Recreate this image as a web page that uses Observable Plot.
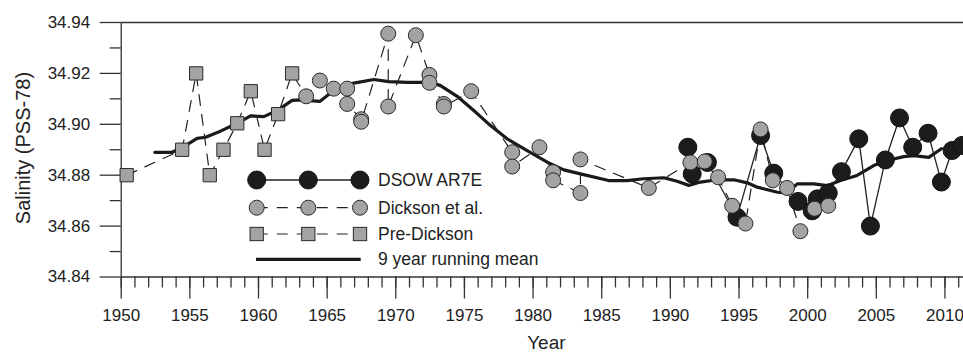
<!DOCTYPE html>
<html><head><meta charset="utf-8">
<script src="https://cdn.jsdelivr.net/npm/d3@7"></script>
<script src="https://cdn.jsdelivr.net/npm/@observablehq/plot@0.6"></script>
<style>
html,body{margin:0;padding:0;background:#fff;overflow:hidden;}
#chart{width:963px;height:353px;}
</style></head><body><div id="chart"></div>
<script>
// ---- data ----
const preYears = [1950.4, 1954.44, 1955.46, 1956.45, 1957.45, 1958.45, 1959.44, 1960.44, 1961.43, 1962.45];
const preSal   = [34.880, 34.890, 34.920, 34.880, 34.890, 34.9004, 34.913, 34.890, 34.904, 34.920];

const dicksonYears = [1963.47, 1964.47, 1965.48, 1966.46, 1966.46, 1967.48, 1967.48, 1969.45, 1969.45, 1971.46,
  1972.45, 1972.45, 1973.5, 1973.5, 1975.49, 1978.48, 1978.48, 1980.46, 1981.46, 1981.46,
  1983.45, 1983.45, 1988.43, 1991.46, 1992.5, 1993.48, 1994.5, 1995.47, 1996.57, 1997.46,
  1998.5, 1999.47, 2000.5, 2001.5];
const dicksonSal = [34.911, 34.9172, 34.914, 34.914, 34.908, 34.902, 34.901, 34.9356, 34.907, 34.935,
  34.9194, 34.9163, 34.908, 34.907, 34.913, 34.889, 34.8834, 34.891, 34.8812, 34.878,
  34.873, 34.8862, 34.875, 34.885, 34.8854, 34.8792, 34.868, 34.861, 34.898, 34.878,
  34.875, 34.858, 34.8668, 34.868];

const ar7eYears = [1991.27, 1991.59, 1992.7, 1994.85, 1996.57, 1997.53, 1999.3, 2000.33, 2000.7, 2001.5,
  2002.46, 2003.72, 2004.57, 2005.66, 2006.69, 2007.65, 2008.77, 2009.74, 2010.52, 2011.25];
const ar7eSal = [34.891, 34.8805, 34.885, 34.8635, 34.8956, 34.8808, 34.8697, 34.866, 34.8707, 34.873,
  34.8814, 34.8943, 34.860, 34.886, 34.9025, 34.891, 34.8965, 34.8773, 34.8897, 34.8917];

const meanYears = [1952.45, 1953.7, 1954.44, 1955.53, 1956.14, 1957.23, 1958.45, 1959.42, 1960.39, 1961.36,
  1962.45, 1963.06, 1964.46, 1965.48, 1966.94, 1968.4, 1969.49, 1970.83, 1972.53, 1973.26,
  1974.47, 1975.68, 1976.9, 1978.11, 1979.57, 1981.03, 1982.24, 1983.45, 1985.5, 1986.85,
  1988.06, 1989.52, 1990.49, 1991.34, 1992.19, 1993.4, 1994.62, 1995.6, 1996.33, 1997.8,
  1998.5, 1999.24, 2000.45, 2001.42, 2002.39, 2003.6, 2004.81, 2005.78, 2007.0, 2007.73,
  2008.82, 2009.74];
const meanSal = [34.889, 34.889, 34.8908, 34.8945, 34.8949, 34.8973, 34.9004, 34.9033, 34.903, 34.9054,
  34.9094, 34.9096, 34.909, 34.9133, 34.9162, 34.9176, 34.9168, 34.9165, 34.9165, 34.9152,
  34.911, 34.9054, 34.8995, 34.8943, 34.8897, 34.8851, 34.8821, 34.8805, 34.8779, 34.8779,
  34.8786, 34.879, 34.8776, 34.876, 34.8773, 34.8782, 34.8782, 34.877, 34.8753, 34.8733,
  34.873, 34.8766, 34.8766, 34.8759, 34.8779, 34.8799, 34.8838, 34.8858, 34.8873, 34.8877,
  34.887, 34.8904];

const xMajorTicks = [1950, 1955, 1960, 1965, 1970, 1975, 1980, 1985, 1990, 1995, 2000, 2005, 2010];
const xMinorTicks = d3.range(1950, 2012);
const yMajorTicks = [34.84, 34.86, 34.88, 34.90, 34.92, 34.94];
const yMinorTicks = [34.85, 34.87, 34.89, 34.91, 34.93];
const legendLabels = ["DSOW AR7E", "Dickson et al.", "Pre-Dickson", "9 year running mean"];
const yTitle = "Salinity (PSS-78)";
const xTitle = "Year";

// ---- tables ----
const zip = (xs, ys) => xs.map((x, i) => ({year: x, sal: ys[i]}));
const pre = zip(preYears, preSal);
const dickson = zip(dicksonYears, dicksonSal);
const ar7e = zip(ar7eYears, ar7eSal);
const mean = zip(meanYears, meanSal);

const GRAY = "#a3a3a3", BLACK = "#1c1c1c", INK = "#222";
const FONT = "'Liberation Sans', Arial, Helvetica, sans-serif";

const chart = Plot.plot({
  width: 963, height: 353,
  marginLeft: 120.7, marginRight: 0, marginTop: 22, marginBottom: 76.5,
  x: {domain: [1950, 2011.35], label: null},
  y: {domain: [34.84, 34.94], label: null},
  style: {fontFamily: FONT, fontSize: "17px", color: INK, background: "#fff", overflow: "visible"},
  marks: [
    Plot.ruleX([1950], {stroke: "#333", strokeWidth: 1.3}),
    Plot.ruleY([34.84, 34.94], {stroke: "#333", strokeWidth: 1.3}),
    Plot.axisY({ticks: yMajorTicks, tickSize: 21, tickPadding: 10, tickFormat: d => d.toFixed(2), stroke: "#333", strokeWidth: 1.3, fontSize: 17, label: null}),
    Plot.axisY({ticks: yMinorTicks, tickSize: 11, tickFormat: () => "", stroke: "#333", strokeWidth: 1.3, label: null}),
    Plot.axisX({ticks: xMajorTicks, tickSize: 22, tickPadding: 10, tickFormat: d => String(d), stroke: "#333", strokeWidth: 1.3, fontSize: 17, label: null}),
    Plot.axisX({ticks: xMinorTicks, tickSize: 11, tickFormat: () => "", stroke: "#333", strokeWidth: 1.3, label: null}),
    Plot.text([yTitle], {text: d => d, frameAnchor: "left", dx: -97.7, dy: -1.7, rotate: -90, textAnchor: "middle", lineAnchor: "middle", fontSize: 20, fill: INK}),
    Plot.text([xTitle], {text: d => d, frameAnchor: "bottom", dx: 4, dy: 66, textAnchor: "middle", lineAnchor: "middle", fontSize: 19, fill: INK}),
    // running mean
    Plot.line(mean, {x: "year", y: "sal", stroke: "#1a1a1a", strokeWidth: 3.2, strokeLinejoin: "round"}),
    // dashed historical lines
    Plot.line(pre.concat(dickson), {x: "year", y: "sal", stroke: "#222", strokeWidth: 1.2, strokeDasharray: "11,9"}),
    // AR7E solid line
    Plot.line(ar7e, {x: "year", y: "sal", stroke: "#222", strokeWidth: 1.3}),
    Plot.dot(ar7e, {x: "year", y: "sal", r: 9, fill: BLACK, stroke: "#111", strokeWidth: 1}),
    Plot.dot(pre, {x: "year", y: "sal", r: 7.5, symbol: "square", fill: GRAY, stroke: "#2a2a2a", strokeWidth: 1}),
    Plot.dot(dickson, {x: "year", y: "sal", r: 7.5, fill: GRAY, stroke: "#2a2a2a", strokeWidth: 1})
  ]
});
document.getElementById("chart").appendChild(chart);

// ---- legend (inside plot area) ----
const svg = d3.select(chart);
const lg = svg.append("g").attr("class", "legend").attr("text-anchor", "start");
const lx = [256.7, 308.3, 360];
const rows = [180, 207.7, 234, 259.3];
// row 1
lg.append("line").attr("x1", lx[0]).attr("x2", lx[2]).attr("y1", rows[0]).attr("y2", rows[0]).attr("stroke", "#222").attr("stroke-width", 1.3);
lx.forEach(x => lg.append("circle").attr("cx", x).attr("cy", rows[0]).attr("r", 9).attr("fill", BLACK).attr("stroke", "#111"));
// row 2
lg.append("line").attr("x1", lx[0]).attr("x2", lx[2]).attr("y1", rows[1]).attr("y2", rows[1]).attr("stroke", "#222").attr("stroke-width", 1.2).attr("stroke-dasharray", "11,9");
lx.forEach(x => lg.append("circle").attr("cx", x).attr("cy", rows[1]).attr("r", 7.5).attr("fill", GRAY).attr("stroke", "#2a2a2a"));
// row 3
lg.append("line").attr("x1", lx[0]).attr("x2", lx[2]).attr("y1", rows[2]).attr("y2", rows[2]).attr("stroke", "#222").attr("stroke-width", 1.2).attr("stroke-dasharray", "11,9");
lx.forEach(x => lg.append("rect").attr("x", x - 6.65).attr("y", rows[2] - 6.65).attr("width", 13.3).attr("height", 13.3).attr("fill", GRAY).attr("stroke", "#2a2a2a"));
// row 4
lg.append("line").attr("x1", 256).attr("x2", 360.7).attr("y1", rows[3]).attr("y2", rows[3]).attr("stroke", "#1a1a1a").attr("stroke-width", 3.2);
legendLabels.forEach((t, i) => lg.append("text").attr("x", 378).attr("y", rows[i]).attr("dy", "0.35em")
  .attr("text-anchor", "start").attr("font-family", FONT).attr("font-size", 17.5).attr("fill", INK).text(t));
</script></body></html>
